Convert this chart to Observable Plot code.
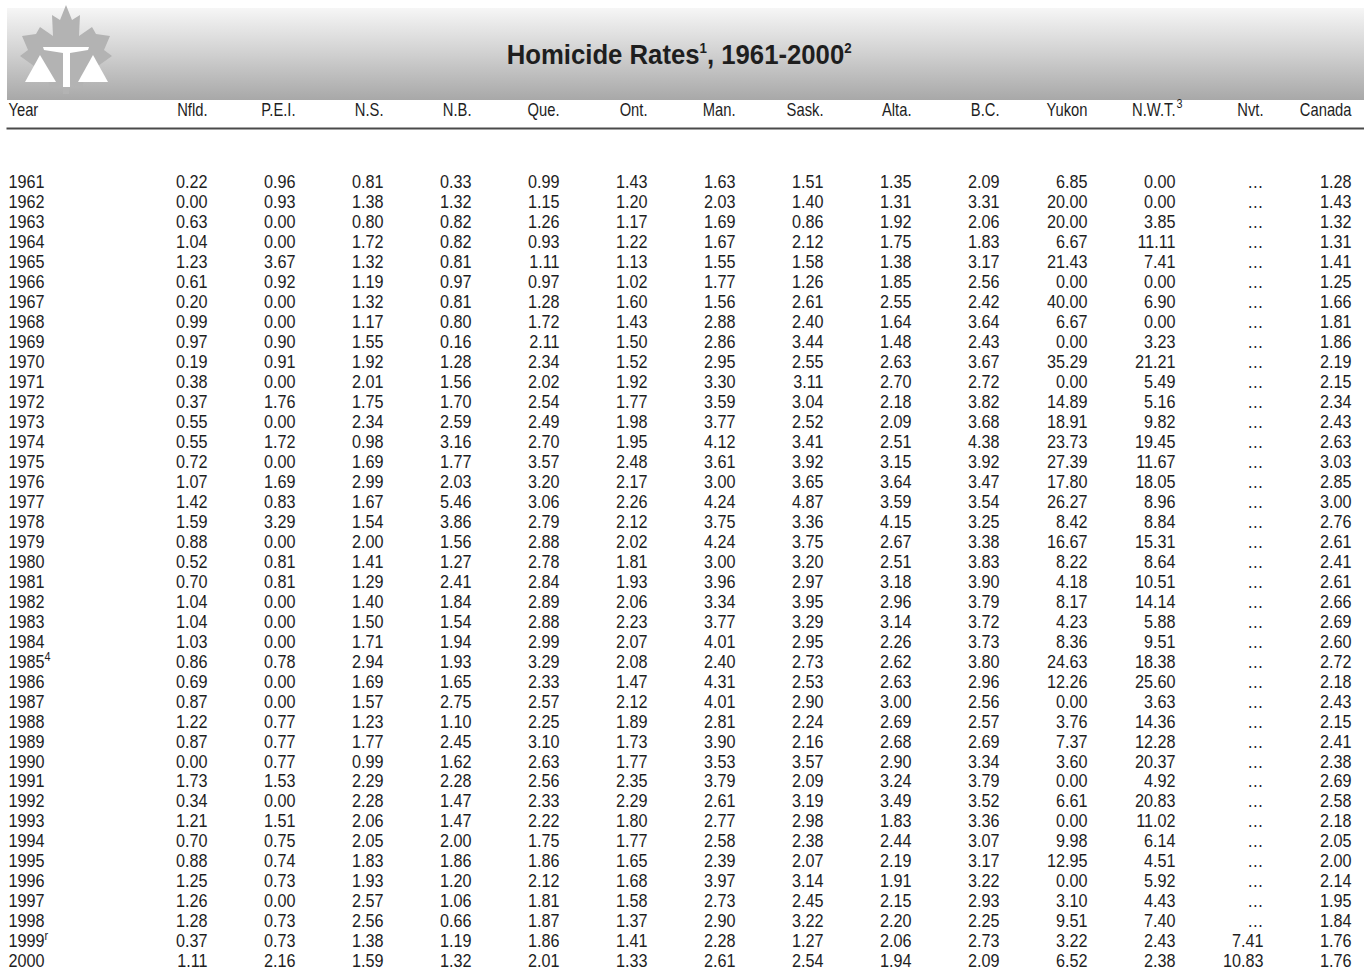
<!DOCTYPE html>
<html>
<head>
<meta charset="utf-8">
<script src="https://cdn.jsdelivr.net/npm/d3@7"></script>
<script src="https://cdn.jsdelivr.net/npm/@observablehq/plot@0.6"></script>
<style>
  html, body { margin: 0; padding: 0; background: #fff; }
  body { width: 1364px; height: 974px; overflow: hidden; font-family: "Liberation Sans", Arial, sans-serif; color: #1e1e1e; }
  #banner { position: relative; width: 1364px; height: 100px; }
  #band { position: absolute; left: 7px; top: 8px; right: 0; height: 92px;
          background: linear-gradient(to bottom, #f6f6f6 0%, #d4d4d4 45%, #a8a8a8 100%); }
  #logo { position: absolute; left: 0; top: 0; }
  #titlewrap { position: absolute; left: 0; right: 0; top: 40px; text-align: center; }
  #title { display: inline-block; font-weight: bold; font-size: 27px; color: #1e1e1e; white-space: nowrap; transform-origin: 50% 50%; margin-left: -5px; }
  #title sup { font-size: 14px; vertical-align: 11px; line-height: 0; }
  #chart { position: relative; margin-top: -10px; }
  #chart svg { display: block; }
</style>
</head>
<body>
<div id="banner">
  <div id="band"></div>
  <svg id="logo" width="140" height="100" viewBox="0 0 140 100">
    <path fill="#b3b3b3" d="M66,5 L72,20 L80,15 L79,36 L92,27 L96,34 L110,36 L104,50 L112,56 L98,66 L102,79 L84,78 L82,89 L69,84 L69,94 L63,94 L63,84 L50,89 L48,78 L30,79 L34,66 L20,56 L28,50 L22,36 L36,34 L40,27 L53,36 L52,15 L60,20 Z"/>
    <path fill="#fff" d="M43,47 L89,47 L88,50 L70,53 L70,87 L63,87 L63,53 L44,50 Z"/>
    <path fill="#fff" d="M40,55 L56,82 L25,82 Z"/>
    <path fill="#fff" d="M93,55 L108,82 L78,82 Z"/>
  </svg>
  <div id="titlewrap"><div id="title">Homicide Rates<sup>1</sup>, 1961-2000<sup>2</sup></div></div>
</div>
<div id="chart"></div>
<script>
const years = [1961,1962,1963,1964,1965,1966,1967,1968,1969,1970,
  1971,1972,1973,1974,1975,1976,1977,1978,1979,1980,
  1981,1982,1983,1984,1985,1986,1987,1988,1989,1990,
  1991,1992,1993,1994,1995,1996,1997,1998,1999,2000];
const yearNotes = [{year: 1985, note: "4"}, {year: 1999, note: "r"}];
const columns = ["Nfld.","P.E.I.","N.S.","N.B.","Que.","Ont.","Man.","Sask.","Alta.","B.C.","Yukon","N.W.T.","Nvt.","Canada"];
const headerNotes = [{col: "N.W.T.", note: "3"}];

const nfld = [0.22,0.00,0.63,1.04,1.23,0.61,0.20,0.99,0.97,0.19,0.38,0.37,0.55,0.55,0.72,1.07,1.42,1.59,0.88,0.52,0.70,1.04,1.04,1.03,0.86,0.69,0.87,1.22,0.87,0.00,1.73,0.34,1.21,0.70,0.88,1.25,1.26,1.28,0.37,1.11];
const pei = [0.96,0.93,0.00,0.00,3.67,0.92,0.00,0.00,0.90,0.91,0.00,1.76,0.00,1.72,0.00,1.69,0.83,3.29,0.00,0.81,0.81,0.00,0.00,0.00,0.78,0.00,0.00,0.77,0.77,0.77,1.53,0.00,1.51,0.75,0.74,0.73,0.00,0.73,0.73,2.16];
const ns = [0.81,1.38,0.80,1.72,1.32,1.19,1.32,1.17,1.55,1.92,2.01,1.75,2.34,0.98,1.69,2.99,1.67,1.54,2.00,1.41,1.29,1.40,1.50,1.71,2.94,1.69,1.57,1.23,1.77,0.99,2.29,2.28,2.06,2.05,1.83,1.93,2.57,2.56,1.38,1.59];
const nb = [0.33,1.32,0.82,0.82,0.81,0.97,0.81,0.80,0.16,1.28,1.56,1.70,2.59,3.16,1.77,2.03,5.46,3.86,1.56,1.27,2.41,1.84,1.54,1.94,1.93,1.65,2.75,1.10,2.45,1.62,2.28,1.47,1.47,2.00,1.86,1.20,1.06,0.66,1.19,1.32];
const que = [0.99,1.15,1.26,0.93,1.11,0.97,1.28,1.72,2.11,2.34,2.02,2.54,2.49,2.70,3.57,3.20,3.06,2.79,2.88,2.78,2.84,2.89,2.88,2.99,3.29,2.33,2.57,2.25,3.10,2.63,2.56,2.33,2.22,1.75,1.86,2.12,1.81,1.87,1.86,2.01];
const ont = [1.43,1.20,1.17,1.22,1.13,1.02,1.60,1.43,1.50,1.52,1.92,1.77,1.98,1.95,2.48,2.17,2.26,2.12,2.02,1.81,1.93,2.06,2.23,2.07,2.08,1.47,2.12,1.89,1.73,1.77,2.35,2.29,1.80,1.77,1.65,1.68,1.58,1.37,1.41,1.33];
const man = [1.63,2.03,1.69,1.67,1.55,1.77,1.56,2.88,2.86,2.95,3.30,3.59,3.77,4.12,3.61,3.00,4.24,3.75,4.24,3.00,3.96,3.34,3.77,4.01,2.40,4.31,4.01,2.81,3.90,3.53,3.79,2.61,2.77,2.58,2.39,3.97,2.73,2.90,2.28,2.61];
const sask = [1.51,1.40,0.86,2.12,1.58,1.26,2.61,2.40,3.44,2.55,3.11,3.04,2.52,3.41,3.92,3.65,4.87,3.36,3.75,3.20,2.97,3.95,3.29,2.95,2.73,2.53,2.90,2.24,2.16,3.57,2.09,3.19,2.98,2.38,2.07,3.14,2.45,3.22,1.27,2.54];
const alta = [1.35,1.31,1.92,1.75,1.38,1.85,2.55,1.64,1.48,2.63,2.70,2.18,2.09,2.51,3.15,3.64,3.59,4.15,2.67,2.51,3.18,2.96,3.14,2.26,2.62,2.63,3.00,2.69,2.68,2.90,3.24,3.49,1.83,2.44,2.19,1.91,2.15,2.20,2.06,1.94];
const bc = [2.09,3.31,2.06,1.83,3.17,2.56,2.42,3.64,2.43,3.67,2.72,3.82,3.68,4.38,3.92,3.47,3.54,3.25,3.38,3.83,3.90,3.79,3.72,3.73,3.80,2.96,2.56,2.57,2.69,3.34,3.79,3.52,3.36,3.07,3.17,3.22,2.93,2.25,2.73,2.09];
const yukon = [6.85,20.00,20.00,6.67,21.43,0.00,40.00,6.67,0.00,35.29,0.00,14.89,18.91,23.73,27.39,17.80,26.27,8.42,16.67,8.22,4.18,8.17,4.23,8.36,24.63,12.26,0.00,3.76,7.37,3.60,0.00,6.61,0.00,9.98,12.95,0.00,3.10,9.51,3.22,6.52];
const nwt = [0.00,0.00,3.85,11.11,7.41,0.00,6.90,0.00,3.23,21.21,5.49,5.16,9.82,19.45,11.67,18.05,8.96,8.84,15.31,8.64,10.51,14.14,5.88,9.51,18.38,25.60,3.63,14.36,12.28,20.37,4.92,20.83,11.02,6.14,4.51,5.92,4.43,7.40,2.43,2.38];
const nvt = [null,null,null,null,null,null,null,null,null,null,null,null,null,null,null,null,null,null,null,null,null,null,null,null,null,null,null,null,null,null,null,null,null,null,null,null,null,null,7.41,10.83];
const canada = [1.28,1.43,1.32,1.31,1.41,1.25,1.66,1.81,1.86,2.19,2.15,2.34,2.43,2.63,3.03,2.85,3.00,2.76,2.61,2.41,2.61,2.66,2.69,2.60,2.72,2.18,2.43,2.15,2.41,2.38,2.69,2.58,2.18,2.05,2.00,2.14,1.95,1.84,1.76,1.76];

const series = [nfld, pei, ns, nb, que, ont, man, sask, alta, bc, yukon, nwt, nvt, canada];

const cells = [];
columns.forEach((col, i) => {
  years.forEach((year, j) => {
    const v = series[i][j];
    cells.push({col, year, label: v == null ? "\u2026" : v.toFixed(2)});
  });
});

const chart = Plot.plot({
  width: 1364,
  height: 884,
  marginTop: 38,
  marginLeft: 7,
  marginRight: 0,
  marginBottom: 4,
  style: {fontFamily: '"Liberation Sans", Arial, sans-serif', fontSize: "18px", color: "#1e1e1e", background: "transparent"},
  x: {type: "point", domain: columns, range: [207, 1351], padding: 0, axis: null},
  y: {type: "point", domain: years, range: [92, 871], padding: 0, axis: null},
  marks: [
    Plot.frame({anchor: "top", stroke: "#4a4a4a", strokeWidth: 2}),
    // text marks, in this order: 0 headers, 1 "Year", 2 header note, 3 years, 4 year notes, 5 values
    Plot.text(columns, {x: d => d, text: d => d, frameAnchor: "top", lineAnchor: "middle", textAnchor: "end", dy: -18, fontSize: 18}),
    Plot.text(["Year"], {text: d => d, frameAnchor: "top-left", lineAnchor: "middle", textAnchor: "start", dx: 1, dy: -18, fontSize: 18}),
    Plot.text(headerNotes, {x: "col", text: "note", frameAnchor: "top", lineAnchor: "middle", textAnchor: "start", dx: 1, dy: -24, fontSize: 12}),
    Plot.text(years, {y: d => d, text: d => String(d), frameAnchor: "left", textAnchor: "start", dx: 1}),
    Plot.text(yearNotes, {y: "year", text: "note", frameAnchor: "left", textAnchor: "start", dx: 37, dy: -5, fontSize: 12}),
    Plot.text(cells, {x: "col", y: "year", text: "label", textAnchor: "end"})
  ]
});
document.getElementById("chart").appendChild(chart);

// condensed face (Helvetica Condensed look): narrow each text about its own anchor
const groups = chart.querySelectorAll('g[aria-label="text"]');
const scales = [0.82, 0.82, 0.9, 0.9, 0.9, 0.9];
groups.forEach((g, i) => {
  const s = scales[i] ?? 0.9;
  g.querySelectorAll("text").forEach(t => {
    const tr = t.getAttribute("transform") || "";
    t.setAttribute("transform", `${tr} scale(${s},1)`);
  });
});

// fit title to reference width
const title = document.getElementById("title");
const w = title.getBoundingClientRect().width;
title.style.transform = `scaleX(${(345 / w).toFixed(3)})`;
</script>
</body>
</html>
